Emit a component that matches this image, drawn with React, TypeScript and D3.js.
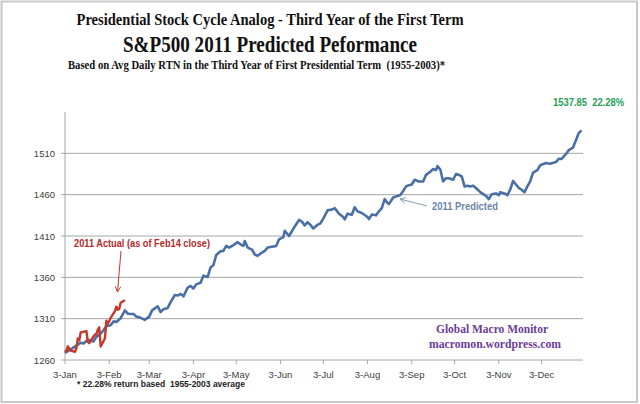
import React from "react";
import * as d3 from "d3";

// ---- data ----
const predictedDates = [
  "01-03","01-08","01-14","01-16","01-19","01-23","01-25","01-28","01-30","02-01",
  "02-04","02-06","02-08","02-11","02-14","02-16","02-20","02-22","02-25","02-28",
  "03-03","03-05","03-09","03-11","03-13","03-16","03-18","03-21","03-23","03-25",
  "03-27","03-30","04-01","04-03","04-05","04-08","04-10","04-13","04-15","04-17",
  "04-19","04-22","04-24","04-26","04-28","05-01","05-04","05-06","05-08","05-09",
  "05-11","05-14","05-16","05-18","05-21","05-23","05-25","05-28","05-31","06-02",
  "06-05","06-06","06-09","06-11","06-13","06-16","06-18","06-20","06-22","06-24",
  "06-26","06-29","07-01","07-03","07-06","07-09","07-11","07-14","07-17","07-18",
  "07-20","07-23","07-25","07-27","07-30","08-03","08-04","08-06","08-09","08-11",
  "08-13","08-15","08-17","08-18","08-21","08-24","08-26","08-28","08-30","09-01",
  "09-03","09-05","09-08","09-11","09-13","09-16","09-18","09-20","09-21","09-23",
  "09-25","09-27","09-29","10-02","10-04","10-06","10-08","10-10","10-12","10-14",
  "10-16","10-18","10-21","10-25","10-27","10-29","11-01","11-03","11-04","11-07",
  "11-09","11-11","11-13","11-15","11-17","11-19","11-21","11-23","11-25","11-27",
  "11-30","12-02","12-06","12-09","12-13","12-15","12-17","12-20","12-22","12-25",
  "12-27","12-29","12-31"
];
const predictedValues = [
  1268.5,1274,1281,1280,1284.5,1282.5,1288,1292,1296,1301,
  1302,1306.7,1306,1310.6,1320,1316,1315.6,1312.5,1311,1308.6,
  1312.5,1320,1325,1318,1321.5,1323,1330,1338.6,1338,1340,
  1337,1347.6,1349.6,1346.5,1351.5,1353.5,1362,1360.5,1372,1374.8,
  1387,1391.6,1392,1398,1396,1399,1402.5,1400,1398,1404,
  1396,1393.5,1387.6,1386,1390,1392,1396,1397,1398,1406,
  1408.6,1416.4,1410,1415.7,1421.6,1429.4,1427.4,1422.7,1426.7,1423.5,
  1419,1423.5,1425.4,1431,1441,1442,1443.7,1437,1433,1430,
  1437,1435.8,1444.8,1439.8,1437.9,1433,1430.4,1435.9,1435,1439.8,
  1443.7,1454.6,1450,1448.7,1456.5,1458.5,1459.7,1464.4,1470,1471.5,
  1472.3,1478,1476,1476,1484,1487.8,1491,1489.7,1494.5,1490.4,
  1476,1479.9,1479.9,1478,1485,1484,1482,1470,1470.9,1470,
  1470.9,1468,1463,1458.5,1454.6,1460.4,1461.5,1459.3,1463,1461.5,
  1459.3,1466.2,1476.7,1472.3,1468.3,1466,1463,1470,1476,1486.6,
  1489.7,1495.5,1498.3,1497.5,1499.4,1503.3,1503.3,1509,1513.8,1517,
  1525.5,1534.5,1537.85
];
const actualDates = [
  "01-03","01-04","01-05","01-06","01-07","01-10","01-11","01-12","01-13","01-14",
  "01-18","01-19","01-20","01-21","01-24","01-25","01-26","01-27","01-28","01-31",
  "02-01","02-02","02-03","02-04","02-07","02-08","02-09","02-10","02-11","02-14"
];
const actualValues = [
  1271.87,1270.2,1276.56,1273.85,1271.5,1269.75,1274.48,1285.96,1283.76,1293.24,
  1295.02,1281.92,1280.26,1283.35,1290.84,1291.18,1296.63,1299.54,1276.34,1286.12,
  1307.59,1304.03,1307.1,1310.87,1319.05,1324.57,1320.88,1321.87,1329.15,1332.32
];
const yTicks = [1260, 1310, 1360, 1410, 1460, 1510];
const xTickMonths = ["01","02","03","04","05","06","07","08","09","10","11","12"];

const titleLines = [
  "Presidential Stock Cycle Analog - Third Year of the First Term",
  "S&P500 2011 Predicted Peformance",
  "Based on Avg Daily RTN in the Third Year of First Presidential Term  (1955-2003)*",
];
const endLabel = "1537.85  22.28%";
const predictedLabel = "2011 Predicted";
const actualLabel = "2011 Actual (as of Feb14 close)";
const footnote = "* 22.28% return based  1955-2003 average";
const brand = ["Global Macro Monitor", "macromon.wordpress.com"];

const parse = d3.timeParse("%Y-%m-%d");
const toDate = (md: string) => parse("2011-" + md) as Date;

export default function App() {
  const W = 640, H = 404;
  const x = d3.scaleTime()
    .domain([toDate("01-03"), parse("2012-01-01") as Date])
    .range([65, 583]);
  const y = d3.scaleLinear().domain([1260, 1560]).range([360, 112]);

  const pred = predictedDates.map((d, i) => ({ d: toDate(d), v: predictedValues[i] }));
  const act = actualDates.map((d, i) => ({ d: toDate(d), v: actualValues[i] }));
  const line = d3.line<{ d: Date; v: number }>()
    .x(p => x(p.d))
    .y(p => y(p.v))
    .curve(d3.curveLinear);
  const fmt = d3.timeFormat("%-d-%b");
  const xTicks = xTickMonths.map(m => toDate(m + "-03"));

  const sans = "'Liberation Sans', Arial, sans-serif";
  const serif = "'Liberation Serif', 'Times New Roman', serif";
  const pre = { whiteSpace: "pre" as const };

  return (
    <svg width={W} height={H} style={{ position: "absolute", left: 0, top: 0, background: "#fff" }}>
      <defs>
        <marker id="arrRed" viewBox="0 0 10 10" refX="9" refY="5" markerWidth="7" markerHeight="7" orient="auto">
          <path d="M1,1 L9,5 L1,9" fill="none" stroke="#c0392b" strokeWidth="1.3" />
        </marker>
        <marker id="arrBlue" viewBox="0 0 10 10" refX="9" refY="5" markerWidth="7" markerHeight="7" orient="auto">
          <path d="M1,1 L9,5 L1,9" fill="none" stroke="#8a9bb8" strokeWidth="1.3" />
        </marker>
      </defs>
      <rect x={0} y={0} width={W} height={H} fill="#fff" />
      <rect x={1.5} y={1.5} width={635.5} height={400.5} fill="none" stroke="#c8c8c8" strokeWidth={2} />

      {/* titles */}
      <text x={270} y={25} textAnchor="middle" fontFamily={serif} fontWeight="bold" fontSize={17}
        textLength={387} lengthAdjust="spacingAndGlyphs" fill="#111">{titleLines[0]}</text>
      <text x={270} y={52} textAnchor="middle" fontFamily={serif} fontWeight="bold" fontSize={23}
        textLength={294} lengthAdjust="spacingAndGlyphs" fill="#111">{titleLines[1]}</text>
      <text x={256.5} y={68.5} textAnchor="middle" fontFamily={serif} fontWeight="bold" fontSize={13}
        textLength={377} lengthAdjust="spacingAndGlyphs" fill="#111" xmlSpace="preserve" style={pre}>{titleLines[2]}</text>

      {/* gridlines */}
      {yTicks.map(t => (
        <line key={t} x1={65} x2={583} y1={y(t)} y2={y(t)} stroke="#a6a6a6" strokeWidth={1} />
      ))}
      {/* y axis */}
      <line x1={65} x2={65} y1={y(1560)} y2={y(1260)} stroke="#a6a6a6" strokeWidth={1} />
      {yTicks.map(t => (
        <g key={"yl" + t}>
          <line x1={61} x2={65} y1={y(t)} y2={y(t)} stroke="#a6a6a6" />
          <text x={55} y={y(t) + 3.5} textAnchor="end" fontFamily={sans} fontSize={9.5} fill="#404040">{t}</text>
        </g>
      ))}
      {/* x ticks */}
      {xTicks.map((t, i) => (
        <g key={"xt" + i}>
          <line x1={x(t)} x2={x(t)} y1={360} y2={364} stroke="#a6a6a6" />
          <text x={x(t)} y={378} textAnchor="middle" fontFamily={sans} fontSize={9.5} fill="#404040">{fmt(t)}</text>
        </g>
      ))}

      {/* series */}
      <path d={line(pred) || ""} fill="none" stroke="#4a6fa5" strokeWidth={2.6} strokeLinejoin="round" />
      <path d={line(act) || ""} fill="none" stroke="#c0392b" strokeWidth={2.4} strokeLinejoin="round" />

      {/* annotations */}
      <text x={624} y={106} textAnchor="end" fontFamily={sans} fontWeight="bold" fontSize={10}
        textLength={71} lengthAdjust="spacingAndGlyphs" fill="#27a05a" xmlSpace="preserve" style={pre}>{endLabel}</text>

      <text x={432} y={210} fontFamily={sans} fontWeight="bold" fontSize={10}
        textLength={66} lengthAdjust="spacingAndGlyphs" fill="#6b84ad">{predictedLabel}</text>
      <line x1={427} y1={206} x2={400} y2={199} stroke="#8a9bb8" strokeWidth={1} markerEnd="url(#arrBlue)" />

      <text x={74} y={247} fontFamily={sans} fontWeight="bold" fontSize={10}
        textLength={136} lengthAdjust="spacingAndGlyphs" fill="#b22a2a">{actualLabel}</text>
      <line x1={121} y1={251} x2={117.5} y2={292} stroke="#c0392b" strokeWidth={1} markerEnd="url(#arrRed)" />

      <text x={161} y={387} textAnchor="middle" fontFamily={sans} fontWeight="bold" fontSize={9}
        textLength={168} lengthAdjust="spacingAndGlyphs" fill="#222" xmlSpace="preserve" style={pre}>{footnote}</text>

      <text x={492} y={333} textAnchor="middle" fontFamily={serif} fontWeight="bold" fontSize={13}
        textLength={112} lengthAdjust="spacingAndGlyphs" fill="#6a3d9a">{brand[0]}</text>
      <text x={495} y={348} textAnchor="middle" fontFamily={serif} fontWeight="bold" fontSize={13}
        textLength={132} lengthAdjust="spacingAndGlyphs" fill="#6a3d9a">{brand[1]}</text>
    </svg>
  );
}
